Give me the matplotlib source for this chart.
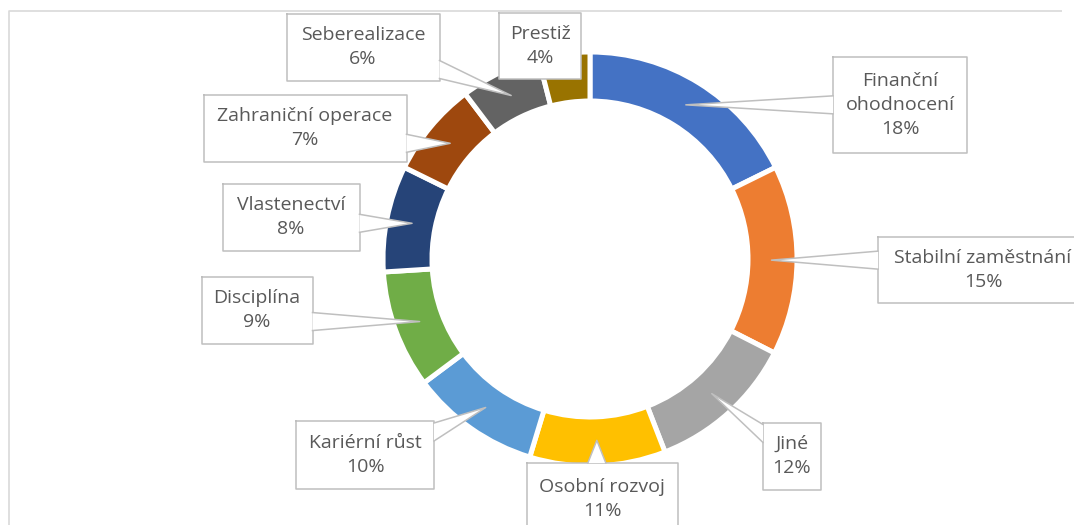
import numpy as np
import matplotlib
matplotlib.use('Agg')
import matplotlib.pyplot as plt
import matplotlib.patches as patches

plt.rcParams['font.family'] = ['Open Sans', 'DejaVu Sans']

# Data (share in %)
categories = ['Finanční\nohodnocení', 'Stabilní zaměstnání', 'Jiné', 'Osobní rozvoj',
              'Kariérní růst', 'Disciplína', 'Vlastenectví', 'Zahraniční operace',
              'Seberealizace', 'Prestiž']
shares = [17.7, 14.8, 11.6, 10.6, 10.1, 9.2, 8.3, 7.4, 6.3, 4.0]
colors = ['#4472C4', '#ED7D31', '#A5A5A5', '#FFC000', '#5B9BD5',
          '#70AD47', '#264478', '#9E480E', '#636363', '#997300']

# Layout, in image pixels (origin top-left)
W, H = 1074, 525
cx, cy = 590, 259
r_out, ring = 207, 49
# label boxes: centre x, centre y, width, height
boxes = [(900, 105, 134, 96), (983, 270, 210, 66), (792, 456, 58, 67),
         (602, 499, 151, 72), (365, 455, 138, 68), (257, 310, 111, 67),
         (291, 217, 137, 67), (305, 128, 203, 67), (363, 47, 153, 67),
         (540, 46, 82, 66)]

text_col = '#595959'
line_col = '#BFBFBF'


def up(y):
    return H - y  # pixel row -> axis y


fig = plt.figure(figsize=(W / 100, H / 100), dpi=100)
ax = fig.add_axes([0, 0, 1, 1])

ax.pie(shares, colors=colors, startangle=90, counterclock=False,
       radius=r_out, center=(cx, up(cy)),
       wedgeprops=dict(width=ring, edgecolor='white', linewidth=3.6))

# chart frame (only left and top edges are inside the picture)
ax.plot([9, 9, W - 12], [0, up(11), up(11)], color='#D9D9D9',
        linewidth=1.2, zorder=1, solid_capstyle='butt')

# callouts
r_mid = r_out - ring / 2 - 1
cum = np.cumsum([0] + shares[:-1])
total = sum(shares)
for name, val, c0, (bx, by, bw, bh) in zip(categories, shares, cum, boxes):
    theta = np.radians((c0 + val / 2) / total * 360)
    ax_x = cx + r_mid * np.sin(theta)
    ax_y = cy - r_mid * np.cos(theta)
    x0, x1 = bx - bw / 2, min(bx + bw / 2, W + 5)
    y0, y1 = by - bh / 2, min(by + bh / 2, H + 5)

    ax.add_patch(patches.Rectangle((x0, up(y1)), x1 - x0, y1 - y0,
                                   facecolor='white', edgecolor='none', zorder=3))
    ax.plot([x0, x1, x1, x0, x0], [up(y0), up(y0), up(y1), up(y1), up(y0)],
            color=line_col, linewidth=1.1, zorder=3)

    # wedge pointer from the box side facing the anchor
    dx = max(x0 - ax_x, 0, ax_x - x1)
    dy = max(y0 - ax_y, 0, ax_y - y1)
    if max(dx, dy) > 6:
        half = 9
        if dx >= dy:
            ex = x0 if ax_x < x0 else x1
            m = min(max(ax_y, y0 + half + 2), y1 - half - 2)
            p1, p2 = (ex, m - half), (ex, m + half)
        else:
            ey = y0 if ax_y < y0 else y1
            m = min(max(ax_x, x0 + half + 2), x1 - half - 2)
            p1, p2 = (m - half, ey), (m + half, ey)
        tri = [(p1[0], up(p1[1])), (ax_x, up(ax_y)), (p2[0], up(p2[1]))]
        ax.add_patch(patches.Polygon(tri, closed=True, facecolor='white',
                                     edgecolor='none', zorder=4))
        ax.plot([p1[0], ax_x, p2[0]], [up(p1[1]), up(ax_y), up(p2[1])],
                color=line_col, linewidth=1.1, zorder=4)

    ax.text(bx, up(by), f'{name}\n{val / total * 100:.0f}%', ha='center',
            va='center', fontsize=14, color=text_col, linespacing=1.4,
            zorder=5)

ax.set_xlim(0, W)
ax.set_ylim(0, H)
ax.set_aspect('equal')
ax.axis('off')

fig.savefig('out.png', dpi=100, facecolor='white')
